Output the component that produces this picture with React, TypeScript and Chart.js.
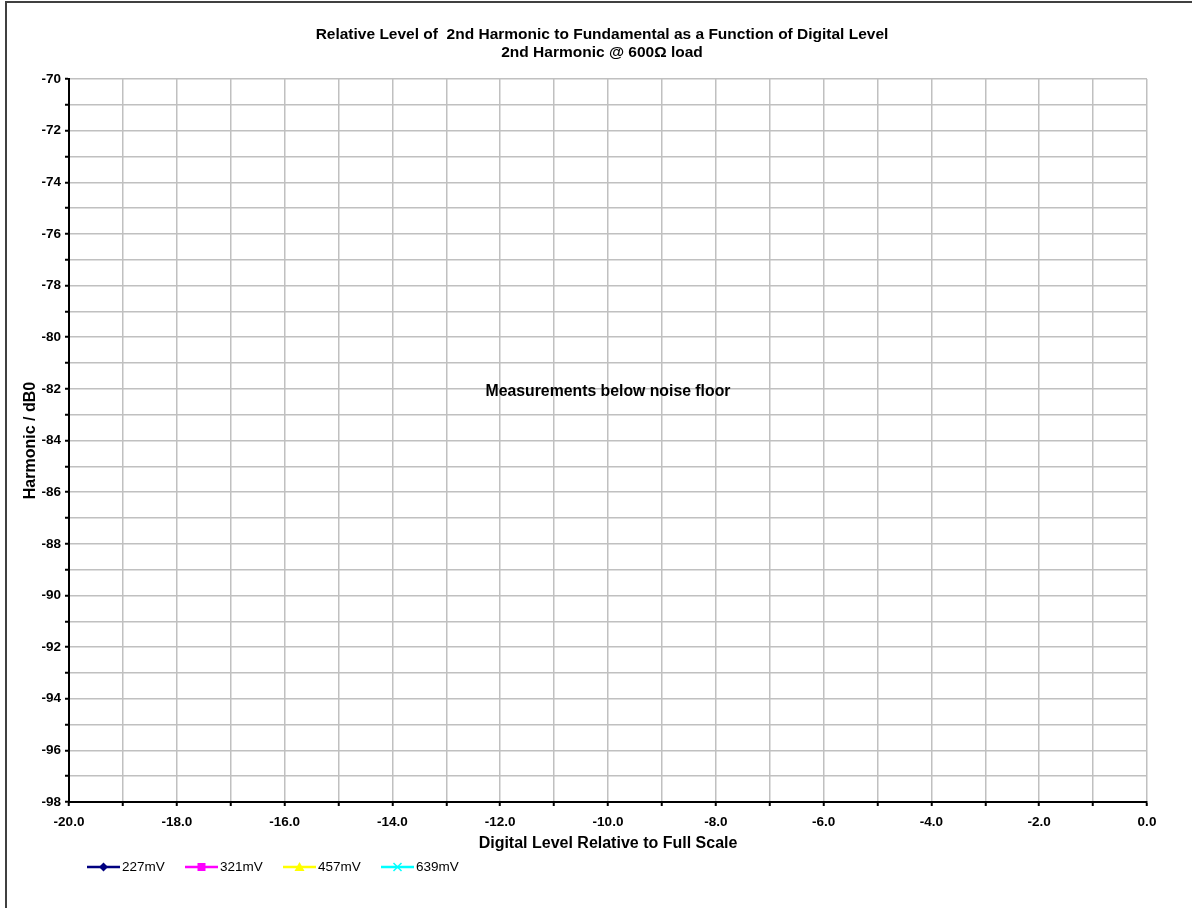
import React, { useEffect, useRef } from 'react';
import { Chart, registerables } from 'chart.js';

Chart.register(...registerables);

// ---- Data & text ----
const titleLines = [
  'Relative Level of  2nd Harmonic to Fundamental as a Function of Digital Level',
  '2nd Harmonic @ 600\u03A9 load',
];
const xAxisTitle = 'Digital Level Relative to Full Scale';
const yAxisTitle = 'Harmonic / dB0';
const noteText = 'Measurements below noise floor';
const noteX = -10;
const noteY = -82.1;

const xMin = -20;
const xMax = 0;
const yMin = -98;
const yMax = -70;

const seriesNames = ['227mV', '321mV', '457mV', '639mV'];
const seriesColors = ['#000080', '#FF00FF', '#FFFF00', '#00FFFF'];
const seriesMarkers = ['rectRot', 'rect', 'triangle', 'crossRot'];

// All measurements fell below the noise floor: no points plotted
const series227mV: { x: number; y: number }[] = [];
const series321mV: { x: number; y: number }[] = [];
const series457mV: { x: number; y: number }[] = [];
const series639mV: { x: number; y: number }[] = [];
const seriesData = [series227mV, series321mV, series457mV, series639mV];

const FONT = "'Liberation Sans', Arial, sans-serif";

function drawMarker(ctx: CanvasRenderingContext2D, kind: string, cx: number, cy: number, color: string) {
  ctx.save();
  ctx.fillStyle = color;
  ctx.strokeStyle = color;
  ctx.lineWidth = 1.5;
  ctx.beginPath();
  if (kind === 'rectRot') {
    ctx.moveTo(cx, cy - 4.5);
    ctx.lineTo(cx + 4.5, cy);
    ctx.lineTo(cx, cy + 4.5);
    ctx.lineTo(cx - 4.5, cy);
    ctx.closePath();
    ctx.fill();
  } else if (kind === 'rect') {
    ctx.rect(cx - 4, cy - 4, 8, 8);
    ctx.fill();
  } else if (kind === 'triangle') {
    ctx.moveTo(cx, cy - 5);
    ctx.lineTo(cx + 5, cy + 4);
    ctx.lineTo(cx - 5, cy + 4);
    ctx.closePath();
    ctx.fill();
  } else {
    ctx.moveTo(cx - 4, cy - 4);
    ctx.lineTo(cx + 4, cy + 4);
    ctx.moveTo(cx + 4, cy - 4);
    ctx.lineTo(cx - 4, cy + 4);
    ctx.stroke();
  }
  ctx.restore();
}

const decorPlugin = {
  id: 'decor',
  beforeDraw(chart: any) {
    const ctx: CanvasRenderingContext2D = chart.ctx;
    ctx.save();
    ctx.fillStyle = '#ffffff';
    ctx.fillRect(0, 0, chart.width, chart.height);
    ctx.fillStyle = '#404040';
    ctx.fillRect(5, 1, 2, chart.height);
    ctx.fillRect(5, 1, chart.width, 2);
    ctx.restore();
  },
  afterDraw(chart: any) {
    const ctx: CanvasRenderingContext2D = chart.ctx;
    ctx.save();
    ctx.fillStyle = '#000';
    ctx.textAlign = 'center';
    ctx.textBaseline = 'middle';
    ctx.font = `bold 15.5px ${FONT}`;
    ctx.fillText(titleLines[0], 602, 35);
    ctx.fillText(titleLines[1], 602, 53);

    // annotation
    const xs = chart.scales.x;
    const ys = chart.scales.y;
    ctx.font = `bold 15.8px ${FONT}`;
    ctx.fillText(noteText, xs.getPixelForValue(noteX), ys.getPixelForValue(noteY));

    // legend
    let lx = 87;
    const ly = 867;
    ctx.font = `13.5px ${FONT}`;
    ctx.textAlign = 'left';
    chart.data.datasets.forEach((ds: any, i: number) => {
      ctx.strokeStyle = ds.borderColor;
      ctx.lineWidth = 2.5;
      ctx.beginPath();
      ctx.moveTo(lx, ly);
      ctx.lineTo(lx + 33, ly);
      ctx.stroke();
      drawMarker(ctx, seriesMarkers[i], lx + 16.5, ly, ds.borderColor);
      ctx.fillStyle = '#000';
      ctx.fillText(ds.label, lx + 35, ly);
      lx += 98;
    });
    ctx.restore();
  },
};

export default function App() {
  const ref = useRef<HTMLCanvasElement | null>(null);

  useEffect(() => {
    if (!ref.current) return;
    const tickFont = { family: FONT, size: 13.5, weight: 'bold' as const };
    const chart = new Chart(ref.current, {
      type: 'line',
      data: {
        datasets: seriesNames.map((name, i) => ({
          label: name,
          data: seriesData[i],
          borderColor: seriesColors[i],
          backgroundColor: seriesColors[i],
          pointStyle: seriesMarkers[i] as any,
          borderWidth: 2,
          pointRadius: 4,
        })),
      },
      options: {
        animation: false,
        responsive: false,
        maintainAspectRatio: false,
        layout: { padding: { left: 0, right: 45, top: 79, bottom: 46 } },
        plugins: {
          legend: { display: false },
          title: { display: false },
          tooltip: { enabled: false },
        },
        scales: {
          x: {
            type: 'linear',
            min: xMin,
            max: xMax,
            afterFit: (s: any) => {
              s.height = 60;
            },
            ticks: {
              stepSize: 1,
              autoSkip: false,
              maxRotation: 0,
              color: '#000',
              font: tickFont,
              padding: 8,
              callback: (v: any) => (Math.round(Number(v)) % 2 === 0 ? Number(v).toFixed(1) : ''),
            },
            grid: { color: '#c0c0c0', lineWidth: 1.5, tickColor: '#000', tickLength: 4, tickWidth: 2 },
            border: { color: '#000', width: 2 },
            title: {
              display: true,
              text: xAxisTitle,
              color: '#000',
              font: { family: FONT, size: 16, weight: 'bold' },
              padding: { top: 0, bottom: 9 },
            },
          },
          y: {
            type: 'linear',
            min: yMin,
            max: yMax,
            afterFit: (s: any) => {
              s.width = 69;
            },
            ticks: {
              stepSize: 1,
              autoSkip: false,
              color: '#000',
              font: tickFont,
              padding: 4,
              callback: (v: any) => (Math.round(Number(v)) % 2 === 0 ? String(Math.round(Number(v))) : ''),
            },
            grid: { color: '#c0c0c0', lineWidth: 1.5, tickColor: '#000', tickLength: 4, tickWidth: 2 },
            border: { color: '#000', width: 2 },
            title: {
              display: true,
              text: yAxisTitle,
              color: '#000',
              font: { family: FONT, size: 16, weight: 'bold' },
              padding: { top: 21, bottom: 0 },
            },
          },
        },
      },
      plugins: [decorPlugin],
    });
    return () => chart.destroy();
  }, []);

  return (
    <div style={{ position: 'absolute', left: 0, top: 0, width: 1192, height: 908 }}>
      <canvas ref={ref} width={1192} height={908} style={{ display: 'block' }} />
    </div>
  );
}
